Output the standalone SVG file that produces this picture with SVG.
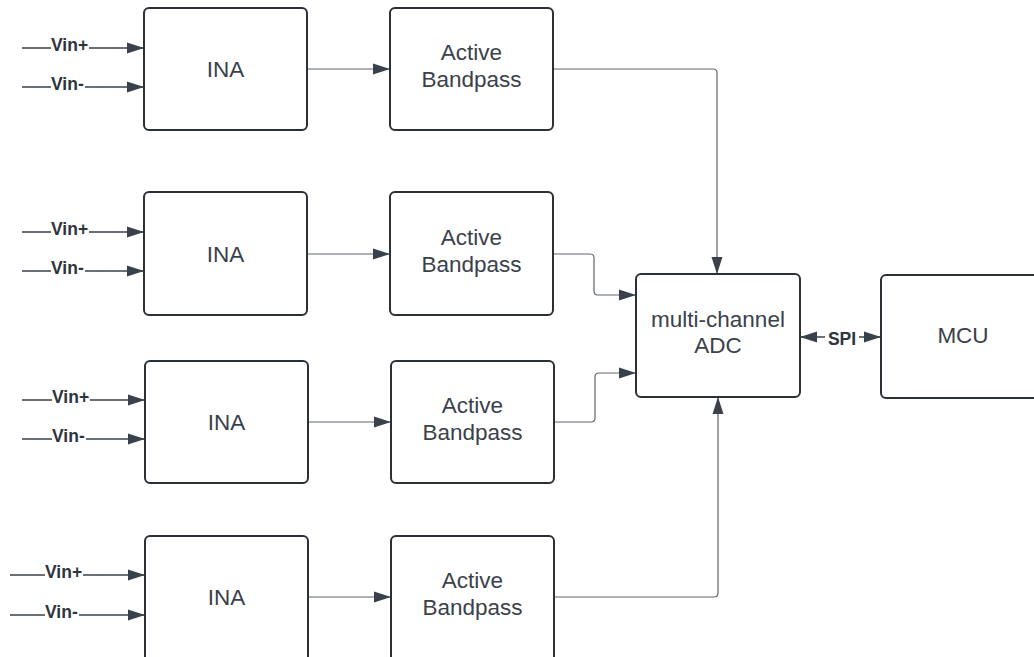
<svg xmlns="http://www.w3.org/2000/svg" width="1034" height="657" viewBox="0 0 1034 657">
<defs>
<style>
.box{fill:#fff;stroke:#2b2f36;stroke-width:2}
.lbl{font-family:"Liberation Sans",Arial,sans-serif;font-size:22.5px;fill:#3a414a;text-anchor:middle}
.vin{font-family:"Liberation Sans",Arial,sans-serif;font-size:17.5px;font-weight:bold;fill:#2f353c}
.in{fill:none;stroke:#3a414a;stroke-width:1.3}
.cn{fill:none;stroke:#5f666e;stroke-width:1.2}
.bg{fill:#fff}
</style>
<marker id="ah" markerUnits="userSpaceOnUse" markerWidth="17" markerHeight="12" viewBox="0 0 17 12" refX="17" refY="6" orient="auto-start-reverse">
<path d="M0,0.5 L17,6 L0,11.5 z" fill="#3a414a"/>
</marker>
</defs>
<rect width="1034" height="657" fill="#fff"/>

<g id="connectors">
<path class="in" d="M22,48 H144" marker-end="url(#ah)"/>
<path class="in" d="M22,87 H144" marker-end="url(#ah)"/>
<path class="in" d="M22,232 H144" marker-end="url(#ah)"/>
<path class="in" d="M22,271 H144" marker-end="url(#ah)"/>
<path class="in" d="M22,400 H145" marker-end="url(#ah)"/>
<path class="in" d="M22,439 H145" marker-end="url(#ah)"/>
<path class="in" d="M10,575 H145" marker-end="url(#ah)"/>
<path class="in" d="M10,615 H145" marker-end="url(#ah)"/>
<path class="cn" d="M307,69 H390" marker-end="url(#ah)"/>
<path class="cn" d="M307,254 H390" marker-end="url(#ah)"/>
<path class="cn" d="M309,422 H391" marker-end="url(#ah)"/>
<path class="cn" d="M309,597 H391" marker-end="url(#ah)"/>
<path class="cn" d="M553,69 H713 Q717,69 717,73 V274" marker-end="url(#ah)"/>
<path class="cn" d="M553,254 H590 Q594,254 594,258 V291 Q594,295 598,295 H636" marker-end="url(#ah)"/>
<path class="cn" d="M554,422 H591 Q595,422 595,418 V377 Q595,373 599,373 H636" marker-end="url(#ah)"/>
<path class="cn" d="M554,597 H714 Q718,597 718,593 V397" marker-end="url(#ah)"/>
<path class="in" d="M800,337 H881" marker-start="url(#ah)" marker-end="url(#ah)"/>
<rect class="bg" x="51" y="38" width="38" height="15"/>
<text class="vin" x="51" y="51">Vin+</text>
<rect class="bg" x="51" y="77" width="34" height="15"/>
<text class="vin" x="51" y="90">Vin-</text>
<rect class="bg" x="51" y="222" width="38" height="15"/>
<text class="vin" x="51" y="235">Vin+</text>
<rect class="bg" x="51" y="261" width="34" height="15"/>
<text class="vin" x="51" y="274">Vin-</text>
<rect class="bg" x="52" y="390" width="38" height="15"/>
<text class="vin" x="52" y="403">Vin+</text>
<rect class="bg" x="52" y="429" width="34" height="15"/>
<text class="vin" x="52" y="442">Vin-</text>
<rect class="bg" x="45" y="565" width="38" height="15"/>
<text class="vin" x="45" y="578">Vin+</text>
<rect class="bg" x="45" y="605" width="34" height="15"/>
<text class="vin" x="45" y="618">Vin-</text>
<rect class="bg" x="825" y="330" width="34" height="16"/>
<text class="vin" x="842" y="345" font-size="19.5" text-anchor="middle">SPI</text>
</g>

<g id="ina1"><rect class="box" x="144" y="8" width="163" height="122" rx="5"/><text class="lbl" x="225.5" y="77">INA</text></g>
<g id="ina2"><rect class="box" x="144" y="192" width="163" height="123" rx="5"/><text class="lbl" x="225.5" y="261.5">INA</text></g>
<g id="ina3"><rect class="box" x="145" y="361" width="163" height="122" rx="5"/><text class="lbl" x="226.5" y="430">INA</text></g>
<g id="ina4"><rect class="box" x="145" y="536" width="163" height="130" rx="5"/><text class="lbl" x="226.5" y="605">INA</text></g>

<g id="bp1"><rect class="box" x="390" y="8" width="163" height="122" rx="5"/><text class="lbl" x="471.5" y="60">Active</text><text class="lbl" x="471.5" y="87">Bandpass</text></g>
<g id="bp2"><rect class="box" x="390" y="192" width="163" height="123" rx="5"/><text class="lbl" x="471.5" y="245">Active</text><text class="lbl" x="471.5" y="272">Bandpass</text></g>
<g id="bp3"><rect class="box" x="391" y="361" width="163" height="122" rx="5"/><text class="lbl" x="472.5" y="413">Active</text><text class="lbl" x="472.5" y="440">Bandpass</text></g>
<g id="bp4"><rect class="box" x="391" y="536" width="163" height="130" rx="5"/><text class="lbl" x="472.5" y="588">Active</text><text class="lbl" x="472.5" y="615">Bandpass</text></g>

<g id="adc"><rect class="box" x="636" y="274" width="164" height="123" rx="5"/><text class="lbl" x="718" y="327">multi-channel</text><text class="lbl" x="718" y="353">ADC</text></g>
<g id="mcu"><rect class="box" x="881" y="275" width="170" height="123" rx="5"/><text class="lbl" x="963" y="343">MCU</text></g>
</svg>
